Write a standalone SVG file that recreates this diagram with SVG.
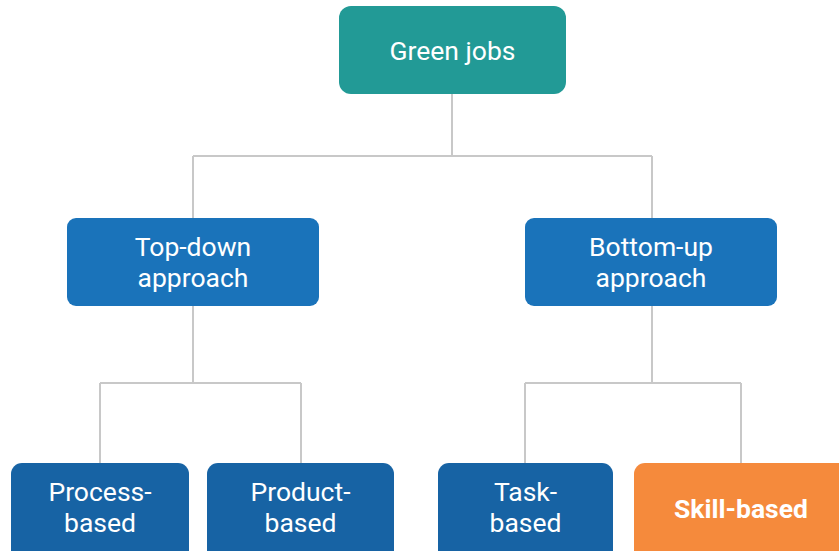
<svg xmlns="http://www.w3.org/2000/svg" width="839" height="551" viewBox="0 0 839 551">
  <style>
    .lbl { font-family: Roboto, "Liberation Sans", sans-serif; font-size: 26.5px; fill: #ffffff; text-anchor: middle; }
    .bold { font-weight: bold; }
    .link { fill: none; stroke: #c8c8c8; stroke-width: 2; }
  </style>
  <rect width="839" height="551" fill="#ffffff"/>

  <!-- connectors -->
  <g id="connectors">
    <path class="link" d="M452 94 V156 M193 156 H652 M193 156 V218 M652 156 V218"/>
    <path class="link" d="M193 306 V383 M100 383 H301 M100 383 V463 M301 383 V463"/>
    <path class="link" d="M652 306 V383 M525 383 H741 M525 383 V463 M741 383 V463"/>
  </g>

  <g id="green-jobs">
    <rect x="339" y="6" width="227" height="88" rx="12" fill="#229a96"/>
    <text class="lbl" x="452.5" y="60">Green jobs</text>
  </g>

  <g id="top-down">
    <rect x="67" y="218" width="252" height="88" rx="9" fill="#1a73ba"/>
    <text class="lbl" x="193" y="256">Top-down</text>
    <text class="lbl" x="193" y="287">approach</text>
  </g>

  <g id="bottom-up">
    <rect x="525" y="218" width="252" height="88" rx="9" fill="#1a73ba"/>
    <text class="lbl" x="651" y="256">Bottom-up</text>
    <text class="lbl" x="651" y="287">approach</text>
  </g>

  <g id="process-based">
    <rect x="11" y="463" width="178" height="100" rx="11" fill="#1763a4"/>
    <text class="lbl" x="100" y="501">Process-</text>
    <text class="lbl" x="100" y="532">based</text>
  </g>

  <g id="product-based">
    <rect x="207" y="463" width="187" height="100" rx="11" fill="#1763a4"/>
    <text class="lbl" x="300.5" y="501">Product-</text>
    <text class="lbl" x="300.5" y="532">based</text>
  </g>

  <g id="task-based">
    <rect x="438" y="463" width="175" height="100" rx="11" fill="#1763a4"/>
    <text class="lbl" x="525.5" y="501">Task-</text>
    <text class="lbl" x="525.5" y="532">based</text>
  </g>

  <g id="skill-based">
    <rect x="634" y="463" width="220" height="100" rx="11" fill="#f58a3c"/>
    <text class="lbl bold" x="741" y="518">Skill-based</text>
  </g>
</svg>
